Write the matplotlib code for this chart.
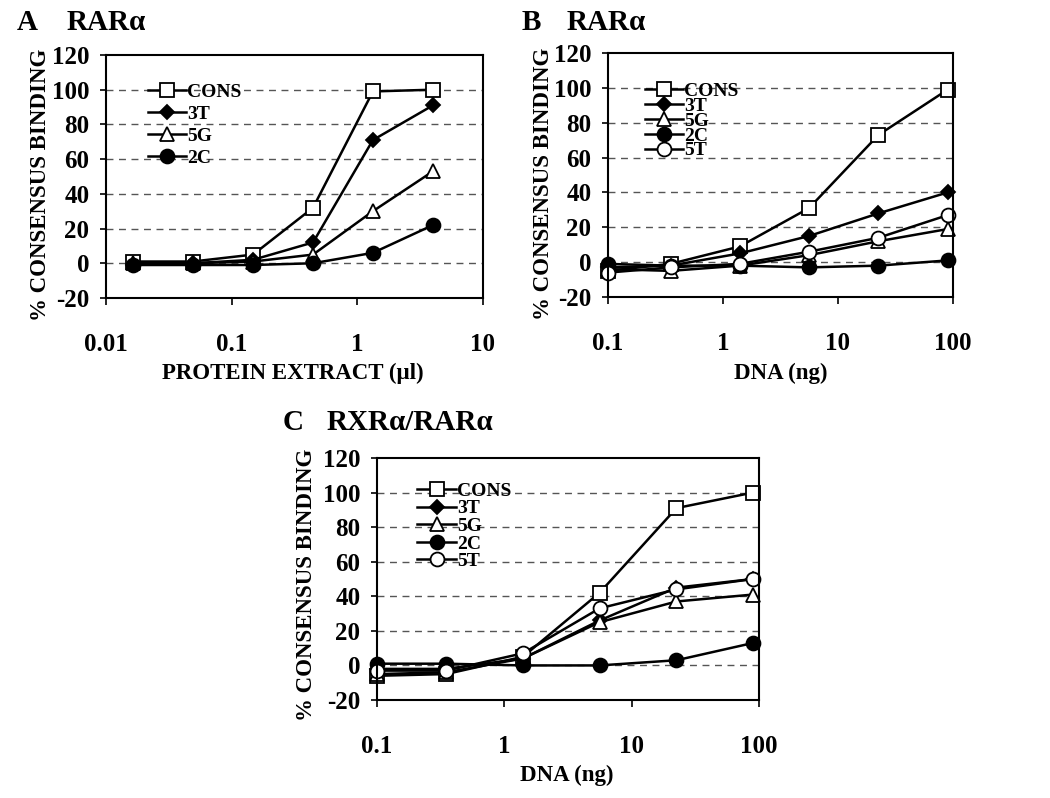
import numpy as np
import matplotlib.pyplot as plt

plt.rcParams['font.family'] = ['Liberation Serif', 'DejaVu Serif']
plt.rcParams['font.weight'] = 'bold'
plt.rcParams['axes.unicode_minus'] = False

# panel A - RARa, protein titration
protein_ul = [0.0165, 0.049, 0.148, 0.444, 1.33, 4.0]
a_cons = [1, 1, 5, 32, 99, 100]
a_3t = [-1, 0, 2, 12, 71, 91]
a_5g = [0, 0, 1, 5, 30, 53]
a_2c = [-1, -1, -1, 0, 6, 22]

# panel B - RARa, DNA titration
dna_ng = [0.1, 0.35, 1.4, 5.6, 22.5, 90]
b_cons = [-5, -1, 9, 31, 73, 99]
b_3t = [-3, -2, 5, 15, 28, 40]
b_5g = [-4, -5, -2, 4, 12, 19]
b_2c = [-1, -2, -2, -3, -2, 1]
b_5t = [-6, -3, -1, 6, 14, 27]

# panel C - RXRa/RARa, DNA titration
c_cons = [-6, -5, 5, 42, 91, 100]
c_3t = [-2, -2, 4, 26, 45, 50]
c_5g = [-5, -4, 4, 25, 37, 41]
c_2c = [1, 1, 0, 0, 3, 13]
c_5t = [-3, -3, 7, 33, 44, 50]

labels = ['CONS', '3T', '5G', '2C', '5T']
styles = {
    'CONS': dict(marker='s', mfc='white', ms=10),
    '3T': dict(marker='D', mfc='black', ms=7.5),
    '5G': dict(marker='^', mfc='white', ms=10),
    '2C': dict(marker='o', mfc='black', ms=10),
    '5T': dict(marker='o', mfc='white', ms=10),
}

fig = plt.figure(figsize=(10.5, 7.98), dpi=100)


def draw_panel(rect, x, series, xlim, xticks, xticklabels, xlabel, legend_pos, labelspacing, ylab_pos, xlab_pos):
    ax = fig.add_axes(rect)
    for name, y in zip(labels, series):
        st = styles[name]
        ax.plot(x, y, color='black', lw=1.8, marker=st['marker'], ms=st['ms'],
                mfc=st['mfc'], mec='black', mew=1.3, label=name, clip_on=False)
    ax.set_xscale('log')
    ax.set_xlim(xlim)
    ax.set_ylim(-20, 120)
    ax.set_yticks(np.arange(-20, 121, 20))
    ax.set_xticks(xticks)
    ax.set_xticklabels(xticklabels)
    ax.minorticks_off()
    for g in range(0, 101, 20):
        ax.axhline(g, color='#555555', lw=1.0, ls=(0, (5, 4)), zorder=0)
    for s in ax.spines.values():
        s.set_linewidth(1.5)
    ax.tick_params(axis='y', labelsize=18, pad=8, length=4, width=1.2)
    ax.tick_params(axis='x', labelsize=18, pad=20, length=5, width=1.2)
    ax.set_ylabel('% CONSENSUS BINDING', fontsize=16.5, fontweight='bold')
    ax.yaxis.set_label_coords(*ylab_pos)
    ax.set_xlabel(xlabel, fontsize=16.5, fontweight='bold')
    ax.xaxis.set_label_coords(*xlab_pos)
    ax.legend(loc='upper left', bbox_to_anchor=legend_pos, frameon=False,
              fontsize=14, handlelength=2.0, handletextpad=0.05,
              labelspacing=labelspacing, borderaxespad=0, borderpad=0)
    return ax


draw_panel([0.101, 0.6266, 0.359, 0.3045], protein_ul, [a_cons, a_3t, a_5g, a_2c],
           (0.01, 10), [0.01, 0.1, 1, 10], ['0.01', '0.1', '1', '10'],
           'PROTEIN EXTRACT (\u03bcl)', (0.11, 0.885), 0.23, (-0.145, 0.465), (0.496, -0.267))

draw_panel([0.579, 0.6278, 0.3286, 0.3058], dna_ng, [b_cons, b_3t, b_5g, b_2c, b_5t],
           (0.1, 100), [0.1, 1, 10, 100], ['0.1', '1', '10', '100'],
           'DNA (ng)', (0.106, 0.88), -0.14, (-0.155, 0.465), (0.5, -0.27))

draw_panel([0.359, 0.1228, 0.3638, 0.3033], dna_ng, [c_cons, c_3t, c_5g, c_2c, c_5t],
           (0.1, 100), [0.1, 1, 10, 100], ['0.1', '1', '10', '100'],
           'DNA (ng)', (0.106, 0.90), 0.0, (-0.158, 0.475), (0.497, -0.269))

# panel letters and titles
fig.text(17 / 1050, 1 - 22 / 798, 'A', fontsize=21, fontweight='bold', va='center')
fig.text(67 / 1050, 1 - 22 / 798, 'RAR\u03b1', fontsize=21, fontweight='bold', va='center')
fig.text(522 / 1050, 1 - 22 / 798, 'B', fontsize=21, fontweight='bold', va='center')
fig.text(567 / 1050, 1 - 22 / 798, 'RAR\u03b1', fontsize=21, fontweight='bold', va='center')
fig.text(283 / 1050, 1 - 423 / 798, 'C', fontsize=21, fontweight='bold', va='center')
fig.text(327 / 1050, 1 - 423 / 798, 'RXR\u03b1/RAR\u03b1', fontsize=21, fontweight='bold', va='center')

fig.savefig('out.png', dpi=100, facecolor='white')
